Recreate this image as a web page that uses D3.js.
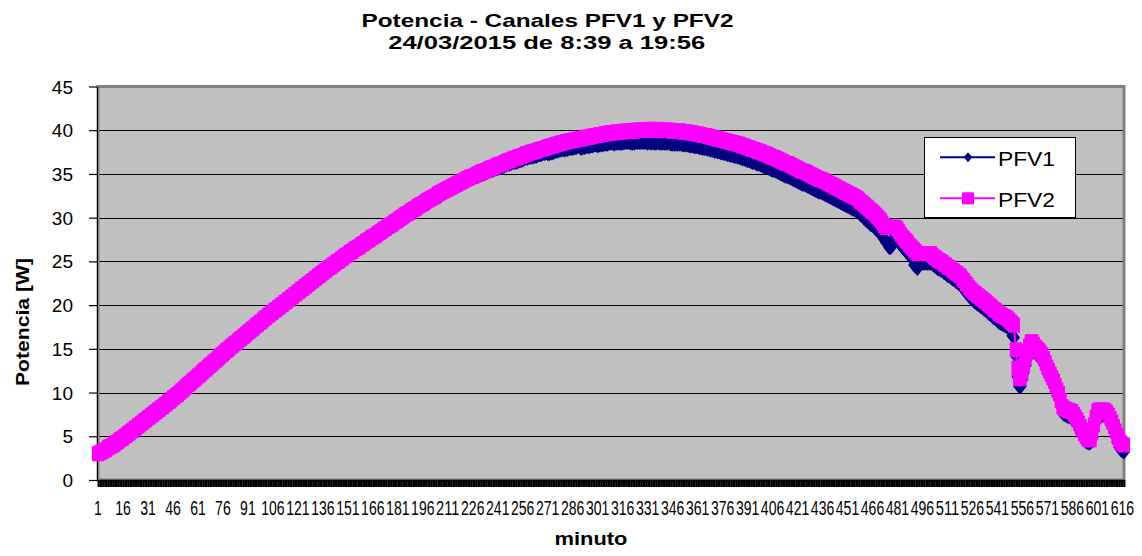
<!DOCTYPE html>
<html><head><meta charset="utf-8">
<script src="https://cdn.jsdelivr.net/npm/d3@7"></script>
<style>body{margin:0;background:#fff}svg{display:block}text{font-family:"Liberation Sans",Arial,sans-serif;fill:#000}</style>
</head><body><svg id="c" width="1142" height="556"></svg>
<script>
// ---- data ----
const minutes = d3.range(1, 618); // categories: minute index 1..617
const pfv1 = [
3.0,3.1,3.2,3.3,3.6,3.7,3.9,4.0,4.1,4.2,
4.3,4.5,4.6,4.8,4.9,5.0,5.2,5.3,5.5,5.6,
5.8,5.9,6.1,6.2,6.4,6.5,6.7,6.8,7.0,7.1,
7.3,7.4,7.6,7.7,7.9,8.0,8.2,8.3,8.5,8.6,
8.8,8.9,9.1,9.2,9.4,9.6,9.7,9.9,10.0,10.2,
10.4,10.5,10.7,10.9,11.1,11.2,11.4,11.6,11.7,11.9,
12.1,12.2,12.4,12.6,12.8,12.9,13.1,13.3,13.4,13.6,
13.8,13.9,14.1,14.3,14.5,14.6,14.8,15.0,15.1,15.3,
15.5,15.6,15.8,15.9,16.1,16.3,16.4,16.6,16.7,16.9,
17.1,17.2,17.4,17.5,17.7,17.9,18.0,18.2,18.3,18.5,
18.7,18.8,19.0,19.1,19.3,19.4,19.6,19.7,19.9,20.0,
20.1,20.2,20.4,20.5,20.7,20.8,21.0,21.1,21.3,21.4,
21.6,21.7,21.9,22.0,22.2,22.3,22.5,22.6,22.8,22.9,
23.1,23.2,23.4,23.5,23.7,23.8,24.0,24.1,24.3,24.4,
24.5,24.7,24.8,25.0,25.1,25.2,25.4,25.5,25.7,25.8,
25.9,26.1,26.2,26.3,26.5,26.6,26.7,26.8,27.0,27.1,
27.2,27.4,27.5,27.6,27.8,27.9,28.0,28.1,28.3,28.4,
28.4,28.6,28.7,28.8,29.0,29.1,29.2,29.3,29.5,29.6,
29.7,29.9,30.0,30.1,30.3,30.4,30.5,30.6,30.8,30.9,
31.0,31.1,31.3,31.4,31.5,31.6,31.7,31.9,32.0,32.1,
32.2,32.3,32.4,32.5,32.7,32.7,32.8,32.9,33.0,33.1,
33.2,33.3,33.4,33.5,33.6,33.6,33.7,33.8,33.9,34.0,
34.1,34.2,34.3,34.4,34.5,34.5,34.6,34.7,34.8,34.9,
34.9,35.0,35.0,35.1,35.2,35.3,35.4,35.4,35.5,35.6,
35.6,35.7,35.7,35.8,35.9,36.0,36.1,36.1,36.2,36.3,
36.3,36.3,36.4,36.5,36.5,36.6,36.7,36.8,36.8,36.9,
36.9,36.9,37.0,37.0,37.1,37.2,37.2,37.3,37.3,37.4,
37.3,37.3,37.4,37.4,37.5,37.6,37.6,37.7,37.7,37.8,
37.7,37.8,37.8,37.9,37.9,37.9,38.0,38.0,38.1,38.1,
37.9,38.0,38.0,38.1,38.1,38.1,38.2,38.2,38.3,38.3,
38.2,38.3,38.3,38.3,38.4,38.4,38.4,38.5,38.5,38.5,
38.4,38.5,38.5,38.5,38.5,38.5,38.6,38.6,38.6,38.6,
38.5,38.5,38.5,38.6,38.6,38.6,38.6,38.6,38.6,38.6,
38.5,38.6,38.5,38.6,38.5,38.5,38.6,38.5,38.5,38.5,
38.5,38.5,38.5,38.5,38.4,38.4,38.4,38.4,38.4,38.4,
38.4,38.3,38.3,38.3,38.3,38.2,38.2,38.2,38.1,38.1,
38.1,38.0,38.0,37.9,37.9,37.9,37.8,37.8,37.7,37.7,
37.6,37.6,37.5,37.5,37.4,37.4,37.3,37.3,37.2,37.2,
37.1,37.1,37.0,37.0,36.9,36.9,36.8,36.7,36.7,36.6,
36.5,36.5,36.4,36.3,36.3,36.2,36.1,36.1,36.0,35.9,
35.8,35.8,35.7,35.6,35.5,35.4,35.4,35.3,35.2,35.1,
35.0,34.9,34.8,34.7,34.7,34.6,34.5,34.4,34.3,34.2,
34.1,34.0,33.9,33.8,33.8,33.7,33.6,33.5,33.4,33.3,
33.2,33.1,33.0,32.9,32.9,32.8,32.7,32.6,32.5,32.4,
32.3,32.2,32.1,32.0,31.9,31.8,31.7,31.6,31.5,31.4,
31.3,31.2,31.1,31.0,30.9,30.8,30.7,30.5,30.3,30.2,
29.9,29.7,29.6,29.4,29.2,29.1,28.9,28.7,28.5,28.3,
28.1,27.8,27.5,27.2,27.2,26.6,26.6,27.5,27.5,27.5,
27.5,27.2,26.9,26.6,26.4,26.2,26.0,25.7,25.5,25.3,
24.6,24.4,24.2,24.8,24.8,24.8,24.8,24.8,24.8,24.8,
24.8,24.7,24.5,24.4,24.2,24.1,24.0,23.9,23.7,23.6,
23.4,23.3,23.2,23.0,22.9,22.7,22.6,22.4,22.3,22.0,
21.8,21.5,21.3,21.0,20.8,20.6,20.4,20.3,20.1,20.0,
19.8,19.7,19.5,19.4,19.2,19.0,18.9,18.7,18.5,18.4,
18.2,18.0,17.9,17.8,17.7,17.6,17.5,17.3,17.1,16.5,
16.3,14.2,11.8,10.7,10.7,11.5,12.3,13.1,13.9,14.5,
15.1,15.1,14.8,14.5,14.3,14.1,13.9,13.6,13.2,12.7,
12.2,11.8,11.4,11.0,10.6,10.1,9.6,9.2,8.4,7.7,
7.5,7.4,7.3,7.2,7.2,7.1,6.8,6.5,6.2,5.8,
5.4,5.1,4.8,4.4,4.3,4.2,4.3,4.8,5.7,6.6,
7.3,7.4,7.4,7.4,7.4,7.3,7.1,6.8,6.4,6.0,
5.5,5.0,4.3,3.8,3.5,3.3,3.2];
const pfv2 = [
3.0,3.1,3.2,3.3,3.4,3.5,3.7,3.8,3.9,4.0,
4.1,4.3,4.4,4.6,4.7,4.8,5.0,5.1,5.3,5.4,
5.6,5.7,5.9,6.0,6.2,6.3,6.5,6.6,6.8,6.9,
7.1,7.2,7.4,7.5,7.7,7.8,8.0,8.1,8.3,8.4,
8.6,8.7,8.9,9.0,9.2,9.4,9.5,9.7,9.8,10.0,
10.2,10.3,10.5,10.7,10.9,11.0,11.2,11.4,11.5,11.7,
11.9,12.0,12.2,12.4,12.6,12.7,12.9,13.1,13.2,13.4,
13.6,13.7,13.9,14.1,14.3,14.4,14.6,14.8,14.9,15.1,
15.3,15.4,15.6,15.7,15.9,16.1,16.2,16.4,16.5,16.7,
16.9,17.0,17.2,17.3,17.5,17.7,17.8,18.0,18.1,18.3,
18.5,18.6,18.8,18.9,19.1,19.2,19.4,19.5,19.7,19.8,
20.0,20.1,20.3,20.4,20.6,20.7,20.9,21.0,21.2,21.3,
21.5,21.6,21.8,21.9,22.1,22.2,22.4,22.5,22.7,22.8,
23.0,23.1,23.3,23.4,23.6,23.7,23.9,24.0,24.2,24.3,
24.4,24.6,24.7,24.9,25.0,25.1,25.3,25.4,25.6,25.7,
25.8,26.0,26.1,26.2,26.4,26.5,26.6,26.7,26.9,27.0,
27.1,27.3,27.4,27.5,27.7,27.8,27.9,28.0,28.2,28.3,
28.4,28.6,28.7,28.8,29.0,29.1,29.2,29.3,29.5,29.6,
29.7,29.9,30.0,30.1,30.3,30.4,30.5,30.6,30.8,30.9,
31.0,31.1,31.3,31.4,31.5,31.6,31.7,31.9,32.0,32.1,
32.2,32.3,32.4,32.5,32.7,32.8,32.9,33.0,33.1,33.2,
33.3,33.4,33.5,33.6,33.7,33.8,33.9,34.0,34.1,34.2,
34.3,34.4,34.5,34.6,34.7,34.7,34.8,34.9,35.0,35.1,
35.2,35.3,35.3,35.4,35.5,35.6,35.7,35.7,35.8,35.9,
36.0,36.1,36.1,36.2,36.3,36.4,36.5,36.5,36.6,36.7,
36.8,36.8,36.9,37.0,37.0,37.1,37.2,37.3,37.3,37.4,
37.5,37.5,37.6,37.6,37.7,37.8,37.8,37.9,37.9,38.0,
38.1,38.1,38.2,38.2,38.3,38.4,38.4,38.5,38.5,38.6,
38.6,38.7,38.7,38.8,38.8,38.8,38.9,38.9,39.0,39.0,
39.0,39.1,39.1,39.2,39.2,39.2,39.3,39.3,39.4,39.4,
39.4,39.5,39.5,39.5,39.6,39.6,39.6,39.7,39.7,39.7,
39.7,39.8,39.8,39.8,39.8,39.8,39.9,39.9,39.9,39.9,
39.9,39.9,39.9,40.0,40.0,40.0,40.0,40.0,40.0,40.0,
40.0,40.1,40.0,40.1,40.0,40.0,40.1,40.0,40.0,40.0,
40.0,40.0,40.0,40.0,39.9,39.9,39.9,39.9,39.9,39.9,
39.9,39.8,39.8,39.8,39.8,39.7,39.7,39.7,39.6,39.6,
39.6,39.5,39.5,39.4,39.4,39.4,39.3,39.3,39.2,39.2,
39.1,39.1,39.0,39.0,38.9,38.9,38.8,38.8,38.7,38.7,
38.6,38.6,38.5,38.5,38.4,38.4,38.3,38.2,38.2,38.1,
38.0,38.0,37.9,37.8,37.8,37.7,37.6,37.6,37.5,37.4,
37.3,37.3,37.2,37.1,37.0,36.9,36.9,36.8,36.7,36.6,
36.5,36.4,36.3,36.2,36.2,36.1,36.0,35.9,35.8,35.7,
35.6,35.5,35.4,35.3,35.3,35.2,35.1,35.0,34.9,34.8,
34.7,34.6,34.5,34.4,34.4,34.3,34.2,34.1,34.0,33.9,
33.8,33.7,33.6,33.5,33.4,33.3,33.2,33.1,33.0,32.9,
32.8,32.7,32.6,32.5,32.4,32.3,32.2,32.0,31.8,31.7,
31.5,31.3,31.2,31.0,30.8,30.7,30.5,30.3,30.1,29.9,
29.7,29.4,29.1,28.9,28.9,28.9,28.9,28.9,28.9,28.9,
28.7,28.4,28.1,27.8,27.6,27.4,27.2,26.9,26.7,26.5,
26.3,26.1,25.9,25.9,25.9,25.9,25.9,25.9,25.9,25.9,
25.9,25.7,25.5,25.4,25.2,25.1,25.0,24.9,24.7,24.6,
24.4,24.3,24.2,24.0,23.9,23.7,23.6,23.4,23.3,23.0,
22.8,22.5,22.3,22.0,21.8,21.6,21.4,21.3,21.1,21.0,
20.8,20.7,20.5,20.4,20.2,20.0,19.9,19.7,19.5,19.4,
19.2,19.0,18.9,18.8,18.7,18.6,18.5,18.3,18.1,17.9,
17.7,14.9,12.8,11.6,11.6,12.3,13.1,13.9,14.7,15.3,
15.8,15.8,15.5,15.2,15.0,14.8,14.6,14.3,13.9,13.4,
12.9,12.5,12.1,11.7,11.3,10.8,10.3,9.9,9.1,8.4,
8.2,8.1,8.0,7.9,7.9,7.8,7.5,7.2,6.9,6.5,
6.1,5.7,5.3,5.0,4.7,4.6,4.6,5.4,6.3,7.2,
7.9,8.0,8.0,8.0,8.0,7.9,7.7,7.4,7.0,6.6,
6.1,5.6,5.1,4.6,4.3,4.1,4.0];
const yTicks = [0,5,10,15,20,25,30,35,40,45];
const xTickLabels = ["1","16","31","46","61","76","91","106","121","136","151","166","181","196",
"211","226","241","256","271","286","301","316","331","346","361","376","391","406","421","436",
"451","466","481","496","511","526","541","556","571","586","601","616"];
const seriesNames = ["PFV1","PFV2"];
const seriesColors = ["#000080","#ff00ff"];
const titleLines = ["Potencia - Canales PFV1 y PFV2","24/03/2015 de 8:39 a 19:56"];

// ---- chart ----
const svg = d3.select("#c");
svg.append("rect").attr("width",1142).attr("height",556).attr("fill","#fff");
const L = 98, R = 1124, T = 86.5, B = 480;
const x = d3.scaleLinear().domain([1, minutes.length]).range([L, R]);
const y = d3.scaleLinear().domain([0, 45]).range([B, T]);

// plot area
svg.append("rect").attr("x",L).attr("y",T).attr("width",R-L).attr("height",B-T).attr("fill","#c0c0c0");
// gridlines
svg.append("g").selectAll("line").data(yTicks.filter(t=>t>0&&t<45)).join("line")
  .attr("x1",L).attr("x2",R).attr("y1",d=>Math.round(y(d))+0.5).attr("y2",d=>Math.round(y(d))+0.5)
  .attr("stroke","#000").attr("stroke-width",1);
// border
svg.append("rect").attr("x",L).attr("y",T).attr("width",R-L).attr("height",B-T)
  .attr("fill","none").attr("stroke","#808080").attr("stroke-width",3);

// y axis
const ya = svg.append("g").attr("transform",`translate(${L-1},0)`)
  .call(d3.axisLeft(y).tickValues(yTicks).tickSize(8).tickSizeOuter(0).tickFormat(""));
ya.select(".domain").attr("stroke","#000");
ya.selectAll(".tick line").attr("stroke","#000").attr("stroke-width",1.2);
svg.append("g").selectAll("text").data(yTicks).join("text")
  .attr("x",73).attr("y",d=>y(d)+7).attr("text-anchor","end")
  .style("font-size","19px").text(d=>d);

// x axis (one tick per minute)
const xa = svg.append("g").attr("transform",`translate(0,${B})`)
  .call(d3.axisBottom(x).tickValues(minutes).tickSize(7).tickSizeOuter(0).tickFormat(""));
xa.select(".domain").attr("stroke","#000").attr("stroke-width",1.5);
xa.selectAll(".tick line").attr("stroke","#000").attr("stroke-width",1.9);
svg.append("g").selectAll("text").data(xTickLabels).join("text")
  .attr("x",d=>x(+d)).attr("y",515).attr("text-anchor","middle")
  .attr("textLength",d=>d.length*7.8).attr("lengthAdjust","spacingAndGlyphs")
  .style("font-size","19.5px").text(d=>d);

// axis titles
svg.append("text").attr("x",591).attr("y",545).attr("text-anchor","middle")
  .attr("textLength",73).attr("lengthAdjust","spacingAndGlyphs")
  .style("font-size","18px").style("font-weight","bold").text("minuto");
svg.append("text").attr("transform","translate(29,322) rotate(-90)").attr("text-anchor","middle")
  .attr("textLength",128).attr("lengthAdjust","spacingAndGlyphs")
  .style("font-size","18px").style("font-weight","bold").text("Potencia [W]");

// title
svg.append("text").attr("x",547.5).attr("y",26.7).attr("text-anchor","middle")
  .attr("textLength",372).attr("lengthAdjust","spacingAndGlyphs")
  .style("font-size","19px").style("font-weight","bold").text(titleLines[0]);
svg.append("text").attr("x",546.7).attr("y",49.3).attr("text-anchor","middle")
  .attr("textLength",317).attr("lengthAdjust","spacingAndGlyphs")
  .style("font-size","18.5px").style("font-weight","bold").text(titleLines[1]);

// series
const diamond = "M0,-7.5L6,0L0,7.5L-6,0Z";
const line = d3.line().x((d,i)=>x(minutes[i])).y(d=>y(d));
[pfv1, pfv2].forEach((vals, s) => {
  const g = svg.append("g");
  g.append("path").attr("d", line(vals)).attr("fill","none")
    .attr("stroke", seriesColors[s]).attr("stroke-width",2);
  if (s === 0) {
    g.selectAll("path.m").data(vals).join("path").attr("class","m")
      .attr("d",diamond).attr("transform",(d,i)=>`translate(${x(minutes[i])},${y(d)})`)
      .attr("fill",seriesColors[s]);
  } else {
    g.selectAll("rect").data(vals).join("rect")
      .attr("x",(d,i)=>x(minutes[i])-6).attr("y",d=>y(d)-7.5)
      .attr("width",12).attr("height",15).attr("fill",seriesColors[s]);
  }
});

// legend
const lg = svg.append("g");
lg.append("rect").attr("x",924.5).attr("y",137.5).attr("width",151).attr("height",80)
  .attr("fill","#fff").attr("stroke","#000").attr("stroke-width",1);
seriesNames.forEach((n, s) => {
  const cy = [157.3, 198.3][s];
  lg.append("line").attr("x1",940).attr("x2",995).attr("y1",cy).attr("y2",cy)
    .attr("stroke",seriesColors[s]).attr("stroke-width",2);
  if (s === 0) lg.append("path").attr("d","M0,-5L4.3,0L0,5L-4.3,0Z")
    .attr("transform",`translate(968,${cy})`).attr("fill",seriesColors[s]);
  else lg.append("rect").attr("x",962).attr("y",cy-6).attr("width",12).attr("height",12)
    .attr("fill",seriesColors[s]);
  lg.append("text").attr("x",998).attr("y",cy+9).attr("textLength",57)
    .attr("lengthAdjust","spacingAndGlyphs").style("font-size","19.5px").text(n);
});
</script></body></html>
